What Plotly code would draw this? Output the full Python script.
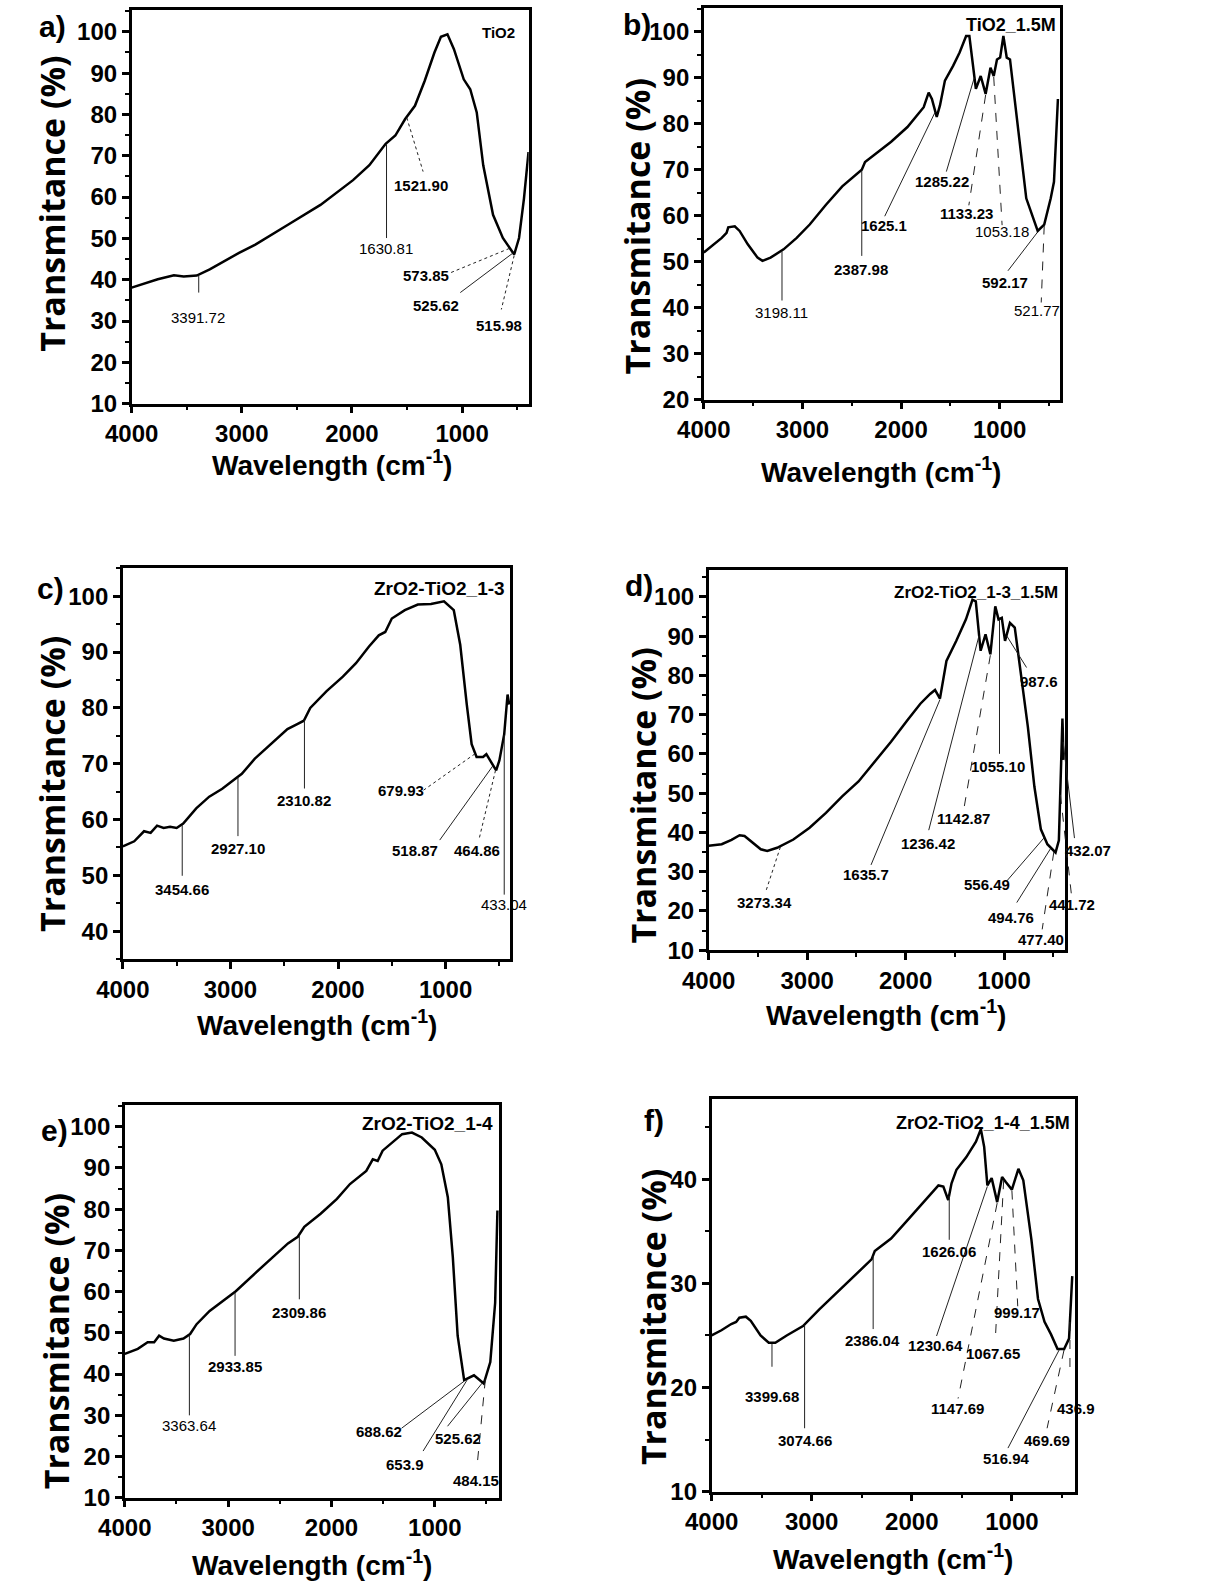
import numpy as np
import plotly.graph_objects as go

W, H = 1229, 1593
FN = "Liberation Sans, Arial, sans-serif"
FW = "Open Sans, DejaVu Sans, Liberation Sans, sans-serif"

# ---------------- data ----------------
A_WN = [4000, 3763, 3616, 3527, 3409, 3291, 3025, 2877, 2581, 2286, 1990, 1842, 1694, 1606, 1517, 1428,
        1340, 1251, 1192, 1133, 1074, 985, 926, 867, 808, 719, 630, 527, 483, 438, 397]
A_T = [38.1, 40.1, 41.1, 40.8, 41.0, 42.5, 46.5, 48.5, 53.3, 58.1, 64.1, 67.7, 72.9, 74.9, 78.9, 82.1,
       88.1, 95.0, 98.8, 99.4, 95.8, 88.5, 86.1, 80.5, 67.7, 55.7, 50.1, 46.1, 50.1, 59.7, 70.9]

B_WN = [4000, 3917, 3818, 3769, 3752, 3686, 3637, 3554, 3455, 3405, 3323, 3191, 3058, 2926, 2761, 2596,
        2398, 2365, 2100, 1935, 1770, 1720, 1687, 1638, 1605, 1555, 1472, 1406, 1340, 1307, 1274, 1241,
        1192, 1142, 1093, 1060, 1027, 995, 962, 928, 895, 846, 780, 730, 614, 548, 482, 449, 409]
B_T = [52.0, 53.4, 55.2, 56.3, 57.5, 57.7, 56.7, 53.8, 50.9, 50.2, 50.9, 52.7, 55.2, 58.1, 62.4, 66.4,
       70.0, 71.7, 76.1, 79.3, 83.6, 86.8, 85.4, 81.5, 84.0, 89.4, 92.6, 95.5, 99.1, 99.1, 92.6, 87.6,
       90.4, 86.5, 92.2, 90.4, 94.0, 94.4, 99.1, 94.4, 94.0, 85.4, 72.5, 63.8, 56.7, 58.1, 63.8, 67.4, 85.4]

C_WN = [4000, 3894, 3803, 3742, 3682, 3621, 3561, 3500, 3439, 3318, 3197, 3076, 2955, 2894, 2773, 2621,
        2470, 2379, 2318, 2258, 2106, 1955, 1833, 1712, 1621, 1561, 1500, 1379, 1258, 1136, 1015, 924,
        864, 803, 758, 712, 652, 621, 530, 500, 455, 424, 409]
C_T = [55.2, 56.1, 57.9, 57.6, 58.9, 58.5, 58.7, 58.5, 59.3, 62.0, 64.1, 65.5, 67.3, 68.2, 70.9, 73.5,
       76.2, 77.1, 77.7, 80.0, 83.0, 85.6, 88.0, 91.0, 93.0, 93.6, 96.0, 97.5, 98.5, 98.6, 99.1, 97.5,
       91.3, 80.6, 73.5, 71.2, 71.2, 71.7, 68.8, 70.6, 75.3, 82.4, 80.6]

D_WN = [4000, 3868, 3768, 3686, 3636, 3570, 3471, 3405, 3305, 3140, 2975, 2809, 2644, 2478, 2313, 2148,
        1982, 1850, 1751, 1701, 1651, 1618, 1585, 1486, 1387, 1321, 1287, 1238, 1188, 1139, 1089, 1056,
        1023, 990, 940, 891, 841, 758, 692, 626, 560, 477, 443, 420, 407, 394]
D_T = [36.6, 37.0, 38.1, 39.3, 39.1, 37.8, 35.7, 35.3, 36.1, 38.2, 41.2, 45.0, 49.2, 53.0, 58.0, 63.1,
       68.6, 72.8, 75.3, 76.3, 74.1, 79.1, 83.7, 88.8, 94.3, 99.3, 98.9, 86.3, 90.5, 85.4, 97.6, 94.3,
       94.7, 88.8, 93.4, 92.2, 82.9, 66.9, 51.7, 40.8, 37.0, 34.9, 38.0, 55.0, 69.0, 58.5]

E_WN = [4000, 3874, 3779, 3716, 3668, 3621, 3526, 3432, 3368, 3305, 3179, 3053, 2926, 2737, 2579, 2421,
        2326, 2263, 2105, 1947, 1821, 1758, 1663, 1600, 1553, 1505, 1411, 1316, 1221, 1126, 1000, 937,
        874, 826, 779, 716, 621, 526, 463, 416, 394]
E_T = [44.9, 46.1, 47.7, 47.7, 49.3, 48.6, 48.1, 48.6, 49.7, 52.1, 55.3, 57.7, 60.1, 64.5, 68.1, 71.7,
       73.3, 75.7, 78.9, 82.5, 86.1, 87.3, 89.3, 92.1, 91.7, 94.2, 96.2, 98.2, 98.6, 97.4, 94.4, 90.9,
       82.9, 68.5, 49.3, 38.5, 39.7, 37.7, 42.9, 57.3, 79.7]

F_WN = [4000, 3902, 3804, 3755, 3723, 3658, 3609, 3511, 3429, 3364, 3250, 3087, 2924, 2761, 2598, 2402,
        2370, 2207, 2011, 1848, 1734, 1685, 1636, 1603, 1554, 1457, 1359, 1310, 1277, 1245, 1202, 1147,
        1098, 1059, 1000, 935, 886, 805, 739, 674, 609, 544, 478, 429, 397]
F_T = [25.0, 25.5, 26.1, 26.3, 26.7, 26.8, 26.4, 25.0, 24.3, 24.3, 25.0, 25.9, 27.5, 29.0, 30.5, 32.3,
       33.1, 34.3, 36.4, 38.2, 39.4, 39.3, 38.0, 39.6, 40.9, 42.1, 43.6, 44.8, 43.1, 39.4, 40.1, 37.8,
       40.2, 39.7, 39.0, 41.0, 39.9, 34.2, 28.5, 26.3, 25.1, 23.7, 23.7, 24.7, 30.7]

# peak labels and the wavenumber where each leader line meets the curve
A_PEAKS = ["3391.72", "1630.81", "1521.90", "573.85", "525.62", "515.98"]
A_PEAK_WN = [3391, 1686, 1502, 571, 541, 527]
B_PEAKS = ["3198.11", "2387.98", "1625.1", "1285.22", "1133.23", "1053.18", "592.17", "521.77"]
B_PEAK_WN = [3207, 2398, 1654, 1258, 1142, 1060, 614, 548]
C_PEAKS = ["3454.66", "2927.10", "2310.82", "679.93", "518.87", "464.86", "433.04"]
C_PEAK_WN = [3448, 2930, 2312, 727, 561, 536, 455]
D_PEAKS = ["3273.34", "1635.7", "1236.42", "1142.87", "1055.10", "987.6", "556.49", "494.76",
           "477.40", "441.72", "432.07"]
D_PEAK_WN = [3272, 1651, 1254, 1139, 1046, 973, 593, 527, 494, 427, 400]
E_PEAKS = ["3363.64", "2933.85", "2309.86", "688.62", "653.9", "525.62", "484.15"]
E_PEAK_WN = [3375, 2933, 2311, 716, 685, 542, 511]
F_PEAKS = ["3399.68", "3074.66", "2386.04", "1626.06", "1230.64", "1147.69", "1067.65", "999.17",
           "516.94", "469.69", "436.9"]
F_PEAK_WN = [3397, 3071, 2386, 1626, 1245, 1147, 1082, 1000, 528, 479, 420]

SAMPLES = ["TiO2", "TiO2_1.5M", "ZrO2-TiO2_1-3", "ZrO2-TiO2_1-3_1.5M", "ZrO2-TiO2_1-4", "ZrO2-TiO2_1-4_1.5M"]
LETTERS = ["a)", "b)", "c)", "d)", "e)", "f)"]
X_TICKS = [4000, 3000, 2000, 1000]
X_MINOR = [3500, 2500, 1500, 500]

# ---------------- layout (pixel placement) ----------------
PANELS = [
    dict(wn=A_WN, t=A_T, peaks=A_PEAKS, pwn=A_PEAK_WN, xend=395, yr=(10, 105.3),
         yt=list(range(10, 101, 10)), ym=list(range(15, 106, 10)),
         box=(107, 513, 10, 407), letter=(26, 27), name=(482, 33, 15), ytitle=(26, 205), xtitle=(312, 467),
         lead=[(175, 295), (368, 240), (405, 173), (433, 275), (443, 295), (485, 312)],
         lab=[(175, 320), (367, 251), (403, 187), (408, 278), (418, 308), (483, 328)],
         dash=['solid', 'solid', 'dot', 'dot', 'solid', 'dot'],
         bold=[False, False, True, True, True, True]),
    dict(wn=B_WN, t=B_T, peaks=B_PEAKS, pwn=B_PEAK_WN, xend=390, yr=(20, 105.2),
         yt=list(range(20, 101, 10)), ym=list(range(25, 106, 10)),
         box=(692, 1056, 8, 403), letter=(624, 25), name=(1006, 25, 18), ytitle=(624, 228), xtitle=(873, 474),
         lead=[(772, 303), (853, 258), (877, 218), (940, 173), (963, 207), (997, 227), (1003, 273), (1037, 305)],
         lab=[(771, 315), (853, 272), (876, 227), (936, 183), (961, 215), (997, 233), (1000, 285), (1033, 313)],
         dash=['solid', 'solid', 'solid', 'solid', 'dash', 'dash', 'solid', 'dash'],
         bold=[False, True, True, True, True, False, True, False]),
    dict(wn=C_WN, t=C_T, peaks=C_PEAKS, pwn=C_PEAK_WN, xend=400, yr=(35, 105),
         yt=list(range(40, 101, 10)), ym=list(range(35, 106, 10)),
         box=(98, 494, 573, 967), letter=(24, 593), name=(422, 593, 19), ytitle=(25, 790), xtitle=(297, 1031),
         lead=[(159, 883), (216, 843), (284, 795), (405, 797), (422, 847), (462, 847), (488, 902)],
         lab=[(158, 897), (216, 855), (283, 807), (382, 797), (397, 858), (460, 858), (488, 912)],
         dash=['solid', 'solid', 'solid', 'dot', 'solid', 'dot', 'solid'],
         bold=[True, True, True, True, True, True, False]),
    dict(wn=D_WN, t=D_T, peaks=D_PEAKS, pwn=D_PEAK_WN, xend=384, yr=(10, 106.8),
         yt=list(range(10, 101, 10)), ym=list(range(15, 106, 10)),
         box=(697, 1061, 575, 958), letter=(626, 590), name=(970, 597, 17), ytitle=(630, 802), xtitle=(878, 1021),
         lead=[(755, 900), (863, 872), (922, 837), (958, 815), (994, 760), (1022, 673), (1002, 888),
               (1012, 910), (1038, 937), (1068, 903), (1071, 845)],
         lab=[(754, 910), (858, 882), (921, 850), (958, 825), (993, 773), (1035, 687), (982, 892),
              (1006, 925), (1037, 947), (1068, 912), (1085, 857)],
         dash=['dot', 'solid', 'solid', 'dash', 'solid', 'solid', 'solid', 'solid', 'dash', 'dash', 'solid'],
         bold=[True] * 11),
    dict(wn=E_WN, t=E_T, peaks=E_PEAKS, pwn=E_PEAK_WN, xend=375, yr=(10, 105.3),
         yt=list(range(10, 101, 10)), ym=list(range(15, 106, 10)),
         box=(100, 483, 1114, 1510), letter=(28, 1140), name=(409, 1133, 19), ytitle=(30, 1352), xtitle=(291, 1576),
         lead=[(166, 1427), (213, 1367), (278, 1310), (383, 1440), (405, 1463), (430, 1438), (460, 1480)],
         lab=[(166, 1437), (213, 1378), (278, 1323), (360, 1443), (386, 1477), (441, 1450), (459, 1493)],
         dash=['solid', 'solid', 'solid', 'solid', 'solid', 'solid', 'dash'],
         bold=[False, True, True, True, True, True, True]),
    dict(wn=F_WN, t=F_T, peaks=F_PEAKS, pwn=F_PEAK_WN, xend=365, yr=(10, 47.7),
         yt=[10, 20, 30, 40], ym=[15, 25, 35, 45],
         box=(700, 1072, 1108, 1504), letter=(641, 1130), name=(977, 1132, 18), ytitle=(640, 1328), xtitle=(885, 1570),
         lead=[(762, 1378), (795, 1440), (865, 1340), (943, 1250), (930, 1347), (952, 1410), (990, 1352),
               (1013, 1317), (1003, 1460), (1043, 1440), (1069, 1382)],
         lab=[(762, 1408), (795, 1452), (865, 1352), (943, 1262), (929, 1357), (951, 1420), (988, 1365),
              (1012, 1323), (1002, 1470), (1043, 1452), (1073, 1420)],
         dash=['solid', 'solid', 'solid', 'solid', 'solid', 'dash', 'dash', 'dash', 'solid', 'dash', 'dash'],
         bold=[True] * 11),
]

fig = go.Figure()
layout = dict(width=W, height=H, margin=dict(l=0, r=0, t=0, b=0), paper_bgcolor='white',
              plot_bgcolor='white', showlegend=False)
shapes, annos = [], []


def px(x):
    return x / W


def py(y):
    return 1 - y / H


for i, p in enumerate(PANELS):
    k = '' if i == 0 else str(i + 1)
    l, r, top, bot = p['box']
    fig.add_trace(go.Scatter(x=p['wn'], y=p['t'], mode='lines', line=dict(color='black', width=2.5),
                             xaxis='x' + k, yaxis='y' + k, hoverinfo='skip'))
    axcommon = dict(showline=True, mirror=True, linecolor='black', linewidth=2.5, showgrid=False,
                    zeroline=False, ticks='outside', ticklen=7, tickwidth=2.5, tickcolor='black',
                    tickfont=dict(family=FN, size=24, color='black', weight='bold'))
    layout['xaxis' + k] = dict(domain=[l / W, r / W], anchor='y' + k, range=[4000, p['xend']],
                               tickmode='array', tickvals=X_TICKS,
                               minor=dict(tickmode='array', tickvals=X_MINOR, ticks='outside', ticklen=4,
                                          tickwidth=2, tickcolor='black'), **axcommon)
    layout['yaxis' + k] = dict(domain=[1 - bot / H, 1 - top / H], anchor='x' + k, range=list(p['yr']),
                               tickmode='array', tickvals=p['yt'],
                               minor=dict(tickmode='array', tickvals=p['ym'], ticks='outside', ticklen=4,
                                          tickwidth=2, tickcolor='black'), **axcommon)

    x0, x1 = 4000, p['xend']
    y0, y1 = p['yr']
    wn_inc = np.array(p['wn'][::-1], dtype=float)
    t_inc = np.array(p['t'][::-1], dtype=float)
    for j, txt in enumerate(p['peaks']):
        aw = p['pwn'][j]
        at = float(np.interp(aw, wn_inc, t_inc))
        ax_px = l + (aw - x0) / (x1 - x0) * (r - l)
        ay_px = bot - (at - y0) / (y1 - y0) * (bot - top) + 1
        ex, ey = p['lead'][j]
        if abs(ex - ax_px) < 3:
            ex = ax_px
        shapes.append(dict(type='line', xref='paper', yref='paper', x0=px(ax_px), y0=py(ay_px),
                           x1=px(ex), y1=py(ey),
                           line=dict(color='#222', width=1, dash=p['dash'][j])))
        lx, ly = p['lab'][j]
        annos.append(dict(text=txt, x=px(lx), y=py(ly), xref='paper', yref='paper', showarrow=False,
                          xanchor='center', yanchor='middle',
                          font=dict(family=FN, size=15, color='black',
                                    weight='bold' if p['bold'][j] else 'normal')))

    # panel letter
    lx, ly = p['letter']
    annos.append(dict(text=LETTERS[i], x=px(lx), y=py(ly), xref='paper', yref='paper', showarrow=False,
                      xanchor='center', yanchor='middle',
                      font=dict(family=FN, size=30, color='black', weight='bold')))
    # sample name
    nx, ny, ns = p['name']
    annos.append(dict(text=SAMPLES[i], x=px(nx), y=py(ny), xref='paper', yref='paper', showarrow=False,
                      xanchor='center', yanchor='middle',
                      font=dict(family=FN, size=ns, color='black', weight='bold')))
    # axis titles
    tx, ty = p['ytitle']
    annos.append(dict(text="Transmitance (%)", x=px(tx), y=py(ty), xref='paper', yref='paper',
                      showarrow=False, textangle=-90, xanchor='center', yanchor='middle',
                      font=dict(family=FW, size=34, color='black', weight='bold')))
    tx, ty = p['xtitle']
    annos.append(dict(text="Wavelength (cm<sup>-1</sup>)", x=px(tx), y=py(ty), xref='paper', yref='paper',
                      showarrow=False, xanchor='center', yanchor='middle',
                      font=dict(family=FN, size=28, color='black', weight='bold')))

layout['shapes'] = shapes
layout['annotations'] = annos
fig.update_layout(**layout)
fig.write_html("out.html")
